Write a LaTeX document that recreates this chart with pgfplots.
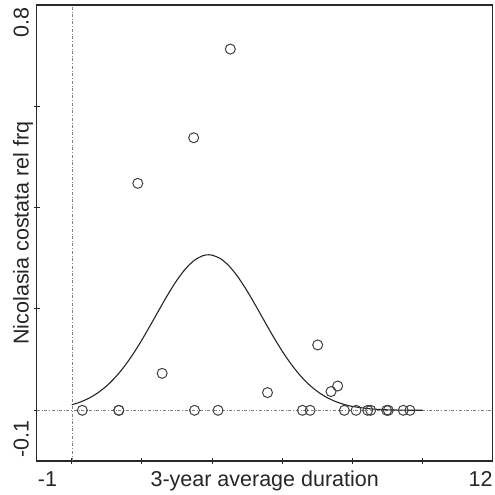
\documentclass[border=0pt]{standalone}
\usepackage{fontspec}
\setmainfont{Liberation Sans}
\usepackage{pgfplots}
\pgfplotsset{compat=1.18}
\begin{document}
\begin{tikzpicture}
\definecolor{axc}{RGB}{40,40,40}
\begin{axis}[
  scale only axis,
  width=456pt, height=456pt,
  xmin=-1, xmax=12, ymin=-0.1, ymax=0.8,
  axis line style={axc, line width=1.3pt},
  xtick={0,2,4,6,8,10}, ytick={0,0.2,0.4,0.6},
  xticklabels={}, yticklabels={},
  xtick pos=bottom, ytick pos=left,
  tick align=center, major tick length=6pt,
  tick style={axc, line width=1pt},
  clip=false,
]
\coordinate (ll) at (rel axis cs:0,0);
\coordinate (ur) at (rel axis cs:1,1);
% reference lines
\addplot[gray, dash dot, line width=0.5pt] coordinates {(0,-0.1) (0,0.8)};
\addplot[gray, dash dot, line width=0.5pt] coordinates {(-1,0) (12,0)};
% fitted curve
\addplot[black!85, line width=1.1pt, smooth] coordinates {
(0,0.0109) (0.25,0.0165) (0.5,0.0243) (0.75,0.0349) (1,0.0486) (1.25,0.0658)
(1.5,0.0868) (1.75,0.1114) (2,0.1391) (2.25,0.1690) (2.5,0.1997) (2.75,0.2297)
(3,0.2571) (3.25,0.2798) (3.5,0.2964) (3.75,0.3055) (3.9,0.307) (4,0.3063)
(4.25,0.2989) (4.5,0.2837) (4.75,0.2620) (5,0.2354) (5.25,0.2058) (5.5,0.1751)
(5.75,0.1449) (6,0.1167) (6.25,0.0915) (6.5,0.0697) (6.75,0.0517) (7,0.0373)
(7.25,0.0262) (7.5,0.0179) (7.75,0.0119) (8,0.0077) (8.5,0.0030) (9,0.0010)
(9.5,0.0003) (10,0.0001)};
% observations
\addplot[only marks, mark=o, mark size=5pt, mark options={black!75, line width=1pt}] coordinates {
(4.52,0.713) (3.475,0.538) (1.882,0.448) (2.576,0.073) (5.58,0.035) (7.01,0.129)
(7.39,0.037) (7.58,0.048)
(0.30,0) (1.34,0) (1.34,0) (3.50,0) (4.17,0) (6.576,0) (6.795,0) (7.771,0)
(8.104,0) (8.437,0) (8.522,0) (8.977,0) (9.023,0) (9.450,0) (9.640,0)};
\end{axis}
\begin{scope}[font=\fontsize{21.5}{25}\selectfont, text=black!85]
\node[anchor=base west, inner sep=0pt] at ([shift={(1pt,-26pt)}]ll) {-1};
\node[anchor=base east, inner sep=0pt] at ([shift={(0pt,-26pt)}]ll -| ur) {12};
\node[anchor=base, inner sep=0pt] at ([shift={(228pt,-26pt)}]ll) {3-year average duration};
\node[anchor=base, rotate=90, inner sep=0pt] at ([shift={(-8pt,228pt)}]ll) {Nicolasia costata rel frq};
\node[anchor=base east, rotate=90, inner sep=0pt] at ([shift={(-8pt,-2pt)}]ll |- ur) {0.8};
\node[anchor=base west, rotate=90, inner sep=0pt] at ([shift={(-8pt,3pt)}]ll) {-0.1};
\end{scope}
\path ([shift={(-36.7pt,-33.3pt)}]ll) rectangle ([shift={(2.3pt,5pt)}]ur);
\end{tikzpicture}
\end{document}
